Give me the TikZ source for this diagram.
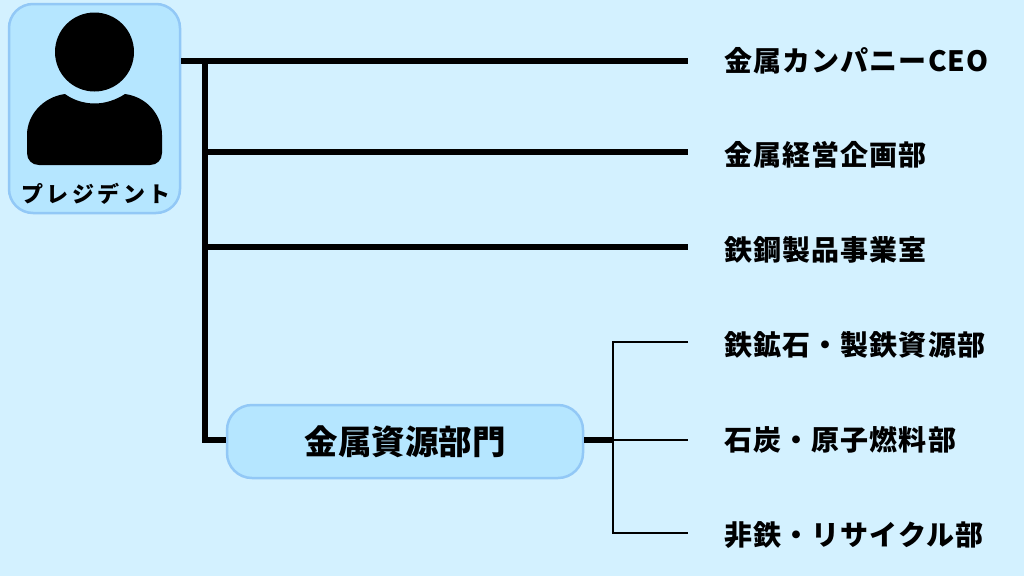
\documentclass[tikz,border=0pt]{standalone}
\usepackage{fontspec}
\newfontfamily\cjk{Noto Sans CJK JP}[BoldFont={Noto Sans CJK JP Black}]
\newfontfamily\cjkdept{Noto Sans CJK JP}[BoldFont={Noto Sans CJK JP Black},LetterSpace=4]
\newfontfamily\cjkname{Noto Sans CJK JP}[BoldFont={Noto Sans CJK JP Black},LetterSpace=16]
\usetikzlibrary{positioning}
\definecolor{bgblue}{HTML}{D3F1FF}
\definecolor{boxblue}{HTML}{B5E6FF}
\definecolor{edgeblue}{HTML}{92C8F6}

\begin{document}
\begin{tikzpicture}[x=1pt,y=-1pt,line join=miter]
    \tikzstyle{unit}=[shape=rectangle, fill=boxblue, draw=edgeblue, line width=2.5pt, inner sep=0pt]
    \tikzstyle{dept}=[shape=rectangle, fill=none, draw=none, text=black, inner sep=0pt, anchor=west, font=\fontsize{28}{29}\cjkdept\bfseries]
    \tikzstyle{thick line}=[draw=black, line width=6pt]
    \tikzstyle{thin line}=[draw=black, line width=2.5pt]

    \fill[bgblue] (0,0) rectangle (1024,576);
    \useasboundingbox (0,0) rectangle (1024,576);

    \node[unit, rounded corners=24pt, minimum width=171pt, minimum height=209pt] (p) at (94.5,108.5) {};
    \node[inner sep=0pt, font=\fontsize{22}{23}\cjkname\bfseries] (pname) at (96,194) {プレジデント};

    % person icon
    \fill[black] (94.5,52) circle (39.5);
    \fill[black] (65,94) .. controls (73,100) and (84,103.5) .. (94.5,103.5)
        .. controls (105,103.5) and (116,100) .. (125,94)
        .. controls (147,97) and (162,115) .. (162,135)
        -- (162,153) .. controls (162,160) and (157,165) .. (150,165)
        -- (39,165) .. controls (32,165) and (27,160) .. (27,153)
        -- (27,135) .. controls (27,115) and (43,97) .. (65,94) -- cycle;

    \node[unit, rounded corners=25pt, minimum width=356pt, minimum height=73pt, font=\fontsize{33.5}{34}\cjk\bfseries] (m) at (405,441.5) {金属資源部門};

    \node[dept] (s1) at (724,61) {金属カンパニーCEO};
    \node[dept] (s2) at (724,155) {金属経営企画部};
    \node[dept] (s3) at (724,250) {鉄鋼製品事業室};
    \node[dept] (s4) at (724,345) {鉄鉱石・製鉄資源部};
    \node[dept] (s5) at (724,440) {石炭・原子燃料部};
    \node[dept] (s6) at (724,535) {非鉄・リサイクル部};

    \coordinate (c0) at (181,61);
    \coordinate (c1) at (204.5,61);
    \coordinate (c2) at (204.5,152);
    \coordinate (c3) at (204.5,247);
    \coordinate (c4) at (204.5,440);
    \coordinate (c5) at (613,440);
    \coordinate (c6) at (613,342);
    \coordinate (c7) at (613,533);
    \coordinate (e1) at (688,61);
    \coordinate (e2) at (688,152);
    \coordinate (e3) at (688,247);
    \coordinate (e4) at (688,342);
    \coordinate (e5) at (688,440);
    \coordinate (e6) at (688,533);

    \draw[thick line] (c0) -- (e1);
    \draw[thick line] (c1) -- (c4) -- (m.west |- c4);
    \draw[thick line] (c2) -- (e2);
    \draw[thick line] (c3) -- (e3);
    \draw[thick line] (m.east |- c5) -- (c5);
    \draw[thin line] (e4) -- (c6) -- (c7) -- (e6);
    \draw[thin line] (c5) -- (e5);

\end{tikzpicture}
\end{document}
